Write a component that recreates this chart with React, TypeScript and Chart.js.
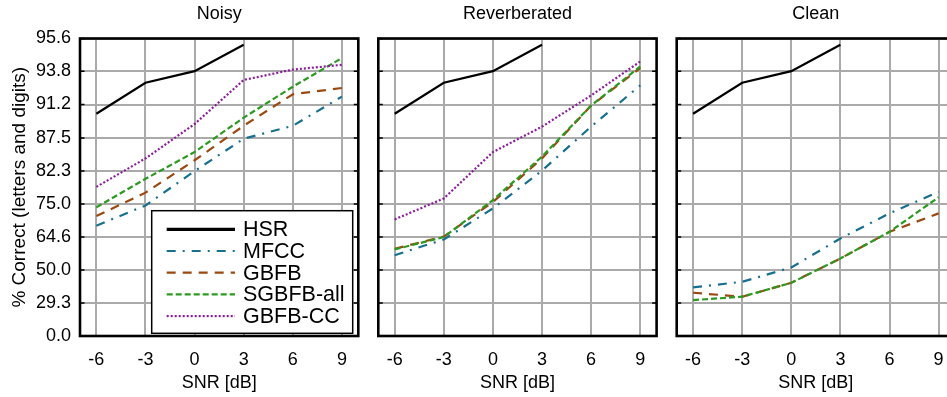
import React, { useEffect, useRef } from "react";
import { Chart, registerables, LinearScale } from "chart.js";

Chart.register(...registerables);

// ---------- data ----------
const SNR = [-6, -3, 0, 3, 6, 9];
const Y_TICK_LABELS = ["0.0", "29.3", "50.0", "64.6", "75.0", "82.3", "87.5", "91.2", "93.8", "95.6"];
const PANEL_TITLES = ["Noisy", "Reverberated", "Clean"];
const SERIES_NAMES = ["HSR", "MFCC", "GBFB", "SGBFB-all", "GBFB-CC"];

const HSR = [90.3, 93.0, 93.8, 95.3, null, null];

const NOISY_MFCC = [68.6, 74.6, 82.3, 87.4, 89.0, 91.9];
const NOISY_GBFB = [71.6, 77.8, 84.2, 89.0, 92.1, 92.6];
const NOISY_SGBFB = [74.1, 80.8, 85.5, 89.9, 92.7, 94.6];
const NOISY_GBFBCC = [79.1, 84.5, 89.2, 93.2, 93.9, 94.2];

const REVERB_MFCC = [57.2, 63.7, 73.8, 82.4, 88.9, 92.8];
const REVERB_GBFB = [60.0, 64.8, 75.5, 84.5, 91.1, 94.0];
const REVERB_SGBFB = [59.7, 64.6, 76.0, 84.8, 91.1, 94.1];
const REVERB_GBFBCC = [70.6, 76.4, 85.5, 88.9, 92.0, 94.4];

const CLEAN_MFCC = [40.0, 43.4, 51.3, 64.1, 72.4, 78.0];
const CLEAN_GBFB = [36.5, 33.8, 42.8, 55.7, 66.5, 72.4];
const CLEAN_SGBFB = [31.4, 33.8, 42.8, 55.7, 66.5, 76.7];
const CLEAN_GBFBCC = [null, null, null, null, null, null];

const PANEL_DATA = [
  [HSR, NOISY_MFCC, NOISY_GBFB, NOISY_SGBFB, NOISY_GBFBCC],
  [HSR, REVERB_MFCC, REVERB_GBFB, REVERB_SGBFB, REVERB_GBFBCC],
  [HSR, CLEAN_MFCC, CLEAN_GBFB, CLEAN_SGBFB, CLEAN_GBFBCC],
];

// ---------- styles ----------
const COLORS = ["#000000", "#18708f", "#9a4a10", "#2c9a20", "#8c1a9c"];
const DASHES = [[], [9, 7, 2, 7], [9, 7], [6, 3], [2, 2]];
const FONT = "'Liberation Sans', Arial, Helvetica, sans-serif";
Chart.defaults.font.family = FONT;
Chart.defaults.color = "#000";

// percent-correct scale: equal spacing in -2*log2(1 - p/100)
const tf = (p: number) => -2 * Math.log2(1 - p / 100);
class CorrectScale extends LinearScale {
  static id = "correct";
  static defaults = LinearScale.defaults;
  determineDataLimits() {
    this.min = parseFloat(Y_TICK_LABELS[0]);
    this.max = parseFloat(Y_TICK_LABELS[Y_TICK_LABELS.length - 1]);
  }
  buildTicks() {
    return Y_TICK_LABELS.map((s) => ({ value: parseFloat(s) }));
  }
  getPixelForValue(v: any) {
    if (v === null || v === undefined || isNaN(v)) return NaN;
    const a = tf(this.min), b = tf(this.max);
    return this.getPixelForDecimal((tf(v) - a) / (b - a));
  }
  getValueForPixel(px: number) {
    const a = tf(this.min), b = tf(this.max);
    const t = a + this.getDecimalForPixel(px) * (b - a);
    return 100 * (1 - Math.pow(2, -t / 2));
  }
}
Chart.register(CorrectScale);

const CANVAS_W = 960;
const CANVAS_H = 397;
const AREA_LEFT = [80, 378.3, 676.7];
const AREA_W = 278.3;

const framePlugin = {
  id: "frameAndLegend",
  afterDraw(chart: any, _args: any, opts: any) {
    const { ctx, chartArea: ca } = chart;
    const ys = chart.scales.y;
    ctx.save();
    // inner tick marks
    ctx.strokeStyle = "#000";
    ctx.lineWidth = 1.5;
    ys.ticks.forEach((_t: any, i: number) => {
      const py = ys.getPixelForTick(i);
      ctx.beginPath();
      ctx.moveTo(ca.left, py);
      ctx.lineTo(ca.left + 4.5, py);
      ctx.moveTo(ca.right - 4.5, py);
      ctx.lineTo(ca.right, py);
      ctx.stroke();
    });
    // frame
    ctx.lineWidth = 2.6;
    ctx.strokeRect(ca.left, ca.top, ca.right - ca.left, ca.bottom - ca.top);

    if (opts && opts.legend) {
      const bx = ca.right - 206.6;
      const by = ca.bottom - 125.3;
      const bw = 201;
      const bh = 122.6;
      ctx.fillStyle = "#fff";
      ctx.fillRect(bx, by, bw, bh);
      ctx.lineWidth = 1.5;
      ctx.strokeStyle = "#000";
      ctx.strokeRect(bx, by, bw, bh);
      ctx.font = `21.5px ${FONT}`;
      ctx.textBaseline = "middle";
      ctx.textAlign = "left";
      chart.data.datasets.forEach((ds: any, i: number) => {
        const cy = by + 18.6 + i * 21.7;
        ctx.beginPath();
        ctx.setLineDash(ds.borderDash || []);
        ctx.strokeStyle = ds.borderColor;
        ctx.lineWidth = i === 0 ? 3.2 : 2.2;
        ctx.moveTo(bx + 15, cy);
        ctx.lineTo(bx + 83.3, cy);
        ctx.stroke();
        ctx.setLineDash([]);
        ctx.fillStyle = "#000";
        ctx.fillText(ds.label, bx + 91.3, cy + 1);
      });
    }
    ctx.restore();
  },
};

function makeConfig(pi: number): any {
  const first = pi === 0;
  const left = AREA_LEFT[pi];
  const right = left + AREA_W;
  const datasets = PANEL_DATA[pi].map((arr, i) => ({
    label: SERIES_NAMES[i],
    data: SNR.map((x, j) => ({ x, y: arr[j] })).filter((p) => p.y !== null),
    borderColor: COLORS[i],
    backgroundColor: COLORS[i],
    borderDash: DASHES[i],
    borderWidth: 2.2,
    pointRadius: 0,
    tension: 0,
    fill: false,
    order: -i,
  }));
  return {
    type: "line",
    data: { datasets },
    plugins: [framePlugin],
    options: {
      animation: false,
      responsive: false,
      maintainAspectRatio: false,
      devicePixelRatio: 1,
      events: [],
      layout: {
        padding: { left: first ? 0 : left, right: CANVAS_W - right, top: 0, bottom: 0 },
      },
      plugins: {
        legend: { display: false },
        tooltip: { enabled: false },
        title: {
          display: true,
          text: PANEL_TITLES[pi],
          fullSize: false,
          color: "#000",
          font: { size: 18, weight: "normal", family: FONT },
          padding: { top: 3, bottom: 13.9 },
        },
        frameAndLegend: { legend: first },
      },
      scales: {
        x: {
          type: "linear",
          min: -7,
          max: 10,
          afterBuildTicks: (s: any) => {
            s.ticks = SNR.map((v) => ({ value: v }));
          },
          afterFit: (s: any) => {
            s.height = 61;
          },
          ticks: {
            autoSkip: false,
            maxRotation: 0,
            padding: 13.5,
            color: "#000",
            font: { size: 18, family: FONT },
            callback: (v: any) => String(v),
          },
          grid: { color: "#aaaaaa", lineWidth: 2, drawTicks: false },
          border: { display: false },
          title: {
            display: true,
            text: "SNR [dB]",
            color: "#000",
            font: { size: 18, family: FONT },
            padding: { top: 0, bottom: 3 },
          },
        },
        y: {
          type: "correct",
          position: "left",
          afterFit: (s: any) => {
            s.width = first ? 80 : 0;
          },
          ticks: {
            display: first,
            padding: 9,
            color: "#000",
            font: { size: 18, family: FONT },
            callback: (_v: any, i: number) => Y_TICK_LABELS[i],
          },
          grid: { color: "#aaaaaa", lineWidth: 2, drawTicks: false },
          border: { display: false },
          title: {
            display: first,
            text: "% Correct (letters and digits)",
            color: "#000",
            font: { size: 19, family: FONT },
            padding: { top: 8.6, bottom: 0 },
          },
        },
      },
    },
  };
}

export default function App() {
  const r0 = useRef<HTMLCanvasElement>(null);
  const r1 = useRef<HTMLCanvasElement>(null);
  const r2 = useRef<HTMLCanvasElement>(null);
  const refs = [r0, r1, r2];
  useEffect(() => {
    const charts = refs.map((r, i) => new Chart(r.current as HTMLCanvasElement, makeConfig(i)));
    return () => charts.forEach((c) => c.destroy());
  }, []);
  return (
    <div
      style={{
        position: "fixed",
        left: 0,
        top: 0,
        width: 947,
        height: 397,
        overflow: "hidden",
        background: "#fff",
      }}
    >
      {refs.map((r, i) => (
        <canvas
          key={i}
          ref={r}
          width={CANVAS_W}
          height={CANVAS_H}
          style={{ position: "absolute", left: 0, top: 0, width: CANVAS_W, height: CANVAS_H }}
        />
      ))}
    </div>
  );
}
